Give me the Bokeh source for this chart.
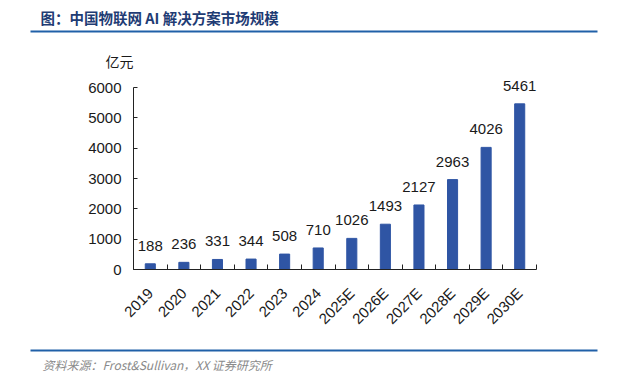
import numpy as np
from bokeh.plotting import figure
from bokeh.models import (ColumnDataSource, Label, Arrow, FixedTicker, Range1d,
                          LinearAxis)
from bokeh.embed import file_html
from bokeh.resources import INLINE

# ---- data ----
categories = ["2019", "2020", "2021", "2022", "2023", "2024",
              "2025E", "2026E", "2027E", "2028E", "2029E", "2030E"]
values = [188, 236, 331, 344, 508, 710, 1026, 1493, 2127, 2963, 4026, 5461]
y_ticks = [0, 1000, 2000, 3000, 4000, 5000, 6000]
title_text = "图：中国物联网 AI 解决方案市场规模"
unit_text = "亿元"
source_text = "资料来源：Frost&Sullivan，XX 证券研究所"

W, H = 623, 382
AL, AR, AT, AB = 133, 536, 87, 269   # axes box on the page (px)
n = len(categories)
ymax = y_ticks[-1]
kx = (AR - AL) / n          # px per category
ky = (AB - AT) / ymax       # px per unit
xs = [i + 0.5 for i in range(n)]

src = ColumnDataSource(dict(x=xs, top=values))

# the frame fills the whole canvas; axes are pinned inside it
p = figure(width=W, height=H, output_backend="svg", toolbar_location=None,
           x_range=Range1d(-AL / kx, n + (W - AR) / kx),
           y_range=Range1d(-(H - AB) / ky, ymax + AT / ky),
           min_border=0, x_axis_type=None, y_axis_type=None)
p.outline_line_color = None
p.grid.visible = False
p.background_fill_color = "white"

BAR = "#2F55A4"
p.vbar(x="x", top="top", width=0.3, source=src, fill_color=BAR, line_color=BAR)

for x, v in zip(xs, values):
    p.add_layout(Label(x=x, y=v, y_offset=13, text=str(v),
                       text_align="center", text_baseline="bottom",
                       text_font="Liberation Sans", text_font_size="15px",
                       text_color="#1a1a1a"))

# x axis
xa = LinearAxis(fixed_location=0, bounds=(0, n))
xa.ticker = FixedTicker(ticks=xs, minor_ticks=list(range(n + 1)))
xa.major_label_overrides = {x: c for x, c in zip(xs, categories)}
xa.major_tick_line_color = None
xa.minor_tick_in = 5
xa.minor_tick_out = 0
xa.minor_tick_line_color = "#222222"
xa.axis_line_color = "#222222"
xa.major_label_orientation = np.pi / 4
xa.major_label_text_font = "Liberation Sans"
xa.major_label_text_font_size = "15px"
xa.major_label_text_color = "#1a1a1a"
xa.major_label_standoff = 15
p.add_layout(xa, "below")

# y axis
ya = LinearAxis(fixed_location=0, bounds=(0, ymax))
ya.ticker = FixedTicker(ticks=y_ticks)
ya.major_tick_in = 4
ya.major_tick_out = 0
ya.minor_tick_line_color = None
ya.axis_line_color = "#222222"
ya.major_tick_line_color = "#222222"
ya.major_label_text_font = "Liberation Sans"
ya.major_label_text_font_size = "15px"
ya.major_label_text_color = "#1a1a1a"
ya.major_label_standoff = 12
p.add_layout(ya, "left")

# decorations in screen units (x from left, y up from bottom of the frame)
def sy(py):
    return H - py

p.add_layout(Label(x=40, y=sy(17), x_units="screen", y_units="screen",
                   text=title_text, text_font="Noto Sans CJK SC",
                   text_font_style="bold", text_font_size="14.5px",
                   text_color="#1F3C74", text_baseline="middle"))
p.add_layout(Label(x=105, y=sy(60), x_units="screen", y_units="screen",
                   text=unit_text, text_font="Noto Sans CJK SC",
                   text_font_size="14px", text_color="#1a1a1a",
                   text_baseline="middle"))
p.add_layout(Label(x=42, y=sy(364), x_units="screen", y_units="screen",
                   text=source_text, text_font="Noto Sans CJK SC",
                   text_font_style="italic", text_font_size="12px",
                   text_color="#8a8a8a", text_baseline="middle"))
LINE = "#2060A8"
for py in (31, 350):
    p.add_layout(Arrow(start=None, end=None, x_start=30, x_end=597,
                       y_start=sy(py), y_end=sy(py),
                       start_units="screen", end_units="screen",
                       line_color=LINE, line_width=2))

open("out.html", "w").write(file_html(p, INLINE))
